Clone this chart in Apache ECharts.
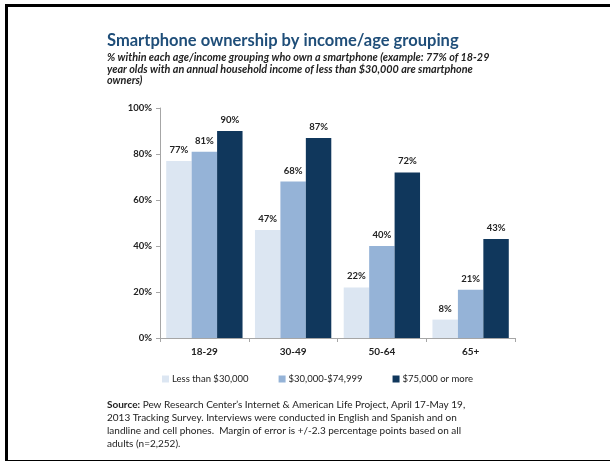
<!DOCTYPE html>
<html>
<head>
<meta charset="utf-8">
<script src="https://cdn.jsdelivr.net/npm/echarts@6/dist/echarts.min.js"></script>
<style>
html,body{margin:0;padding:0;background:#fff;}
#frame{position:absolute;left:5px;top:4px;width:605px;height:453px;border-left:3px solid #000;border-top:3px solid #000;border-bottom:2px solid #000;box-sizing:content-box;}
#c{position:absolute;left:0;top:0;width:610px;height:461px;}
</style>
</head>
<body>
<div id="frame"></div>
<div id="c"></div>
<script>
const categories = ['18-29', '30-49', '50-64', '65+'];
const seriesNames = ['Less than $30,000', '$30,000-$74,999', '$75,000 or more'];
const lowIncome = [77, 47, 22, 8];
const midIncome = [81, 68, 40, 21];
const highIncome = [90, 87, 72, 43];
const yTicks = [0, 20, 40, 60, 80, 100];

const colors = ['#DCE6F2', '#95B3D7', '#10375C'];
const font = 'Lato, "Open Sans", sans-serif';

const chart = echarts.init(document.getElementById('c'));
const dataSets = [lowIncome, midIncome, highIncome];

chart.setOption({
  animation: false,
  textStyle: { fontFamily: font },
  graphic: [
    { type: 'text', left: 107, top: 32, style: { text: 'Smartphone ownership by income/age grouping', font: 'bold 16.5px ' + font, fill: '#1F4E79' } },
    { type: 'text', left: 107, top: 52, style: { text: '% within each age/income grouping who own a smartphone (example: 77% of 18-29\nyear olds with an annual household income of less than $30,000 are smartphone\nowners)', font: 'italic bold 10.8px ' + font, fill: '#222', lineHeight: 11.5 } },
    { type: 'text', left: 107, top: 398, style: { rich: { b: { fontWeight: 'bold', fontSize: 10, fontFamily: font, fill: '#222' } }, text: '{b|Source:} Pew Research Center\u2019s Internet & American Life Project, April 17-May 19,\n2013 Tracking Survey. Interviews were conducted in English and Spanish and on\nlandline and cell phones.  Margin of error is +/-2.3 percentage points based on all\nadults (n=2,252).', font: '10px ' + font, fill: '#222', lineHeight: 13 } }
  ],
  legend: {
    bottom: 72,
    left: 157,
    itemWidth: 7,
    itemHeight: 7,
    itemGap: 30,
    icon: 'rect',
    textStyle: { fontSize: 9.5, color: '#222', fontFamily: font, padding: [0, 0, 0, -2] },
    data: seriesNames
  },
  grid: { left: 160, right: 95, top: 108, bottom: 123, containLabel: false },
  xAxis: {
    type: 'category',
    data: categories,
    axisLine: { lineStyle: { color: '#A6A6A6' } },
    axisTick: { show: true, lineStyle: { color: '#A6A6A6' }, length: 4 },
    axisLabel: { color: '#222', fontSize: 10, fontWeight: 'bold', margin: 9, fontFamily: font }
  },
  yAxis: {
    type: 'value',
    min: yTicks[0],
    max: yTicks[yTicks.length - 1],
    interval: 20,
    axisLine: { show: true, lineStyle: { color: '#A6A6A6' } },
    axisTick: { show: true, lineStyle: { color: '#A6A6A6' }, length: 4 },
    splitLine: { show: false },
    axisLabel: { color: '#222', fontSize: 9.5, fontWeight: 'bold', margin: 8, formatter: '{value}%', fontFamily: font }
  },
  series: seriesNames.map((name, i) => ({
    name,
    type: 'bar',
    data: dataSets[i],
    barGap: '0%',
    barCategoryGap: '14%',
    itemStyle: { color: colors[i] },
    label: { show: true, position: 'top', distance: 6, formatter: '{c}%', color: '#222', fontSize: 9.5, fontWeight: 'bold', fontFamily: font }
  }))
});
</script>
</body>
</html>
